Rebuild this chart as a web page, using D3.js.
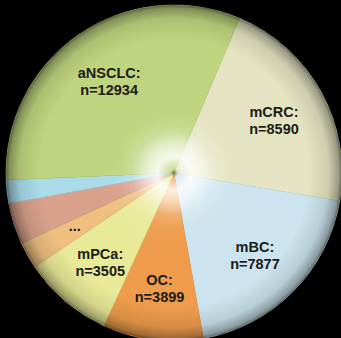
<!DOCTYPE html>
<html>
<head>
<meta charset="utf-8">
<script src="https://cdn.jsdelivr.net/npm/d3@7"></script>
<style>
  html, body { margin: 0; padding: 0; background: #000; }
  svg { display: block; }
</style>
</head>
<body>
<svg id="chart" width="341" height="338"></svg>
<script>
// Patient counts per tumour type (unnamed small groups are shown as "...")
const categories = ["mCRC", "mBC", "OC", "mPCa", "other1", "other2", "other3", "aNSCLC"];
const counts     = [8590, 7877, 3899, 3505, 1040, 1600, 910, 12934];
const labelLines = [
  ["mCRC:", "n=8590"],
  ["mBC:", "n=7877"],
  ["OC:", "n=3899"],
  ["mPCa:", "n=3505"],
  ["..."],
  [],
  [],
  ["aNSCLC:", "n=12934"]
];
const sliceColors = ["#e4e4c2", "#cce4ee", "#ee9c4c", "#e9ea98", "#efbf80", "#d9a08c", "#a9dbe9", "#bfd47e"];

const width = 341, height = 338;
const cx = 174, cy = 173, radius = 168;

const svg = d3.select("#chart");
svg.append("rect").attr("width", width).attr("height", height).attr("fill", "#000");

const defs = svg.append("defs");

// Lighting: bright halo round the hub, darker rim toward the edge
const shade = defs.append("radialGradient")
  .attr("id", "shade")
  .attr("gradientUnits", "userSpaceOnUse")
  .attr("cx", cx).attr("cy", cy).attr("r", radius);
[
  [0.00, "#3c5a1e", 0.8],
  [0.03, "#ffffff", 0.3],
  [0.10, "#ffffff", 0.85],
  [0.17, "#ffffff", 0.6],
  [0.25, "#ffffff", 0.2],
  [0.34, "#ffffff", 0.03],
  [0.50, "#ffffff", 0.0],
  [0.80, "#000000", 0.0],
  [0.92, "#000000", 0.1],
  [0.98, "#000000", 0.32],
  [1.00, "#000000", 0.55]
].forEach(([o, c, a]) => shade.append("stop")
  .attr("offset", o).attr("stop-color", c).attr("stop-opacity", a));

defs.append("filter").attr("id", "soft")
  .append("feGaussianBlur").attr("stdDeviation", 0.6);

const pie = d3.pie()
  .sort(null)
  .value(d => d)
  .startAngle(23 * Math.PI / 180)
  .endAngle(383 * Math.PI / 180);

const arcs = pie(counts);
const arc = d3.arc().innerRadius(0).outerRadius(radius);
const labelArc = d3.arc().innerRadius(114).outerRadius(114);

const g = svg.append("g").attr("transform", `translate(${cx},${cy})`);

g.append("g").attr("filter", "url(#soft)")
  .selectAll("path")
  .data(arcs)
  .join("path")
  .attr("d", arc)
  .attr("fill", (d, i) => sliceColors[i])
  .attr("stroke", (d, i) => sliceColors[i])
  .attr("stroke-width", 0.5);

svg.append("circle")
  .attr("cx", cx).attr("cy", cy).attr("r", radius)
  .attr("fill", "url(#shade)");

const labels = g.append("g")
  .attr("font-family", "'Liberation Sans', Arial, sans-serif")
  .attr("font-weight", "bold")
  .attr("font-size", "14.5px")
  .attr("fill", "#1b1b17")
  .attr("text-anchor", "middle");

arcs.forEach((d, i) => {
  const lines = labelLines[i];
  if (!lines.length) return;
  const [x, y] = labelArc.centroid(d);
  const t = labels.append("text").attr("x", x).attr("y", y);
  if (lines.length === 1) {
    t.append("tspan").attr("x", x).attr("y", y + 2).text(lines[0]);
  } else {
    t.append("tspan").attr("x", x).attr("y", y - 1).text(lines[0]);
    t.append("tspan").attr("x", x).attr("y", y + 16).text(lines[1]);
  }
});
</script>
</body>
</html>
